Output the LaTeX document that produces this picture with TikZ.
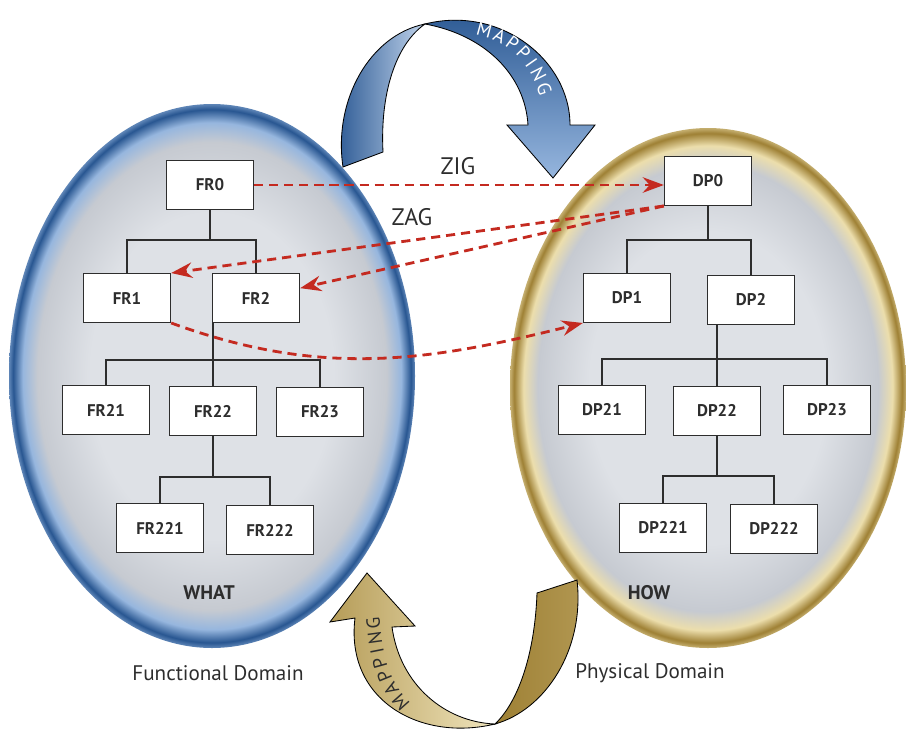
\documentclass[tikz,border=0pt]{standalone}
\usepackage{fontspec}
\setmainfont{PT Sans}
\usetikzlibrary{arrows.meta,decorations.text}
\definecolor{rimblue}{RGB}{40,86,145}
\definecolor{skyblue}{RGB}{150,182,222}
\definecolor{rimgold}{RGB}{158,128,52}
\definecolor{palegold}{RGB}{236,222,172}
\definecolor{domgray}{RGB}{198,202,209}
\definecolor{domlight}{RGB}{222,225,230}
\definecolor{zzred}{RGB}{196,42,32}
\definecolor{inkgray}{RGB}{45,45,45}
\pgfdeclareradialshading{whatdom}{\pgfpoint{0bp}{0bp}}{color(0bp)=(domlight); color(15bp)=(domlight); color(21.5bp)=(domgray); color(23.3bp)=(skyblue); color(24.5bp)=(rimblue); color(25bp)=(rimblue!50!skyblue); color(50bp)=(rimblue!50!skyblue)}
\pgfdeclareradialshading{howdom}{\pgfpoint{0bp}{0bp}}{color(0bp)=(domlight); color(15bp)=(domlight); color(21.5bp)=(domgray); color(23.3bp)=(palegold); color(24.5bp)=(rimgold); color(25bp)=(rimgold!50!palegold); color(50bp)=(rimgold!50!palegold)}

\begin{document}
\begin{tikzpicture}[x=0.025cm, y=0.025cm,
  box/.style={draw=inkgray, fill=white, line width=0.8pt, minimum width=2.18cm,
    minimum height=1.22cm, font=\bfseries\large, text=inkgray},
  link/.style={draw=inkgray, line width=0.9pt},
  zz/.style={draw=zzred, line width=2pt, dash pattern=on 6.5pt off 4.2pt,
    -{Stealth[length=15pt, width=11pt, inset=5pt]}},
  ribbon/.style={draw=black, line width=0.6pt},
  tag/.style={font=\fontsize{17}{17}\selectfont, text=inkgray},
  domlabel/.style={font=\fontsize{15}{15}\selectfont, text=inkgray},
  side/.style={font=\bfseries\fontsize{14}{14}\selectfont, text=inkgray},
  bend text/.style={decorate, decoration={text effects along path,
    text={MAPPING}, text align=center, text effects/.cd, text along path,
    character widths={inner xsep=2pt},
    characters={text=#1, font=\fontsize{13.5}{13.5}\selectfont, anchor=base}}}]
  \useasboundingbox (0,0) rectangle (906,-738);
  % the two domains
  \shade[shading=whatdom] (212,-376) ellipse (203 and 272);
  \shade[shading=howdom] (708,-388) ellipse (198 and 260);
  % mapping ribbon, top (blue)
  \shade[ribbon, left color=rimblue, right color=skyblue!60!white]
    (343,-167) .. controls (333,-100) and (370,-35) .. (425,-24)
    .. controls (395,-45) and (380,-95) .. (383,-152) -- cycle;
  \shade[ribbon, top color=rimblue, bottom color=skyblue]
    (425,-24) .. controls (500,-5) and (570,-60) .. (570,-125)
    -- (595,-125) -- (553,-178) -- (507,-125) -- (528,-125)
    .. controls (525,-75) and (485,-35) .. (425,-24) -- cycle;
  \path[bend text=white]
    (460,-33) .. controls (503,-35) and (535,-60) .. (543,-112);
  % mapping ribbon, bottom (gold)
  \shade[ribbon, left color=rimgold!70!palegold, right color=palegold!80!white]
    (392,-627) .. controls (400,-685) and (445,-722) .. (495,-724)
    .. controls (420,-742) and (345,-700) .. (355,-618)
    -- (330,-622) -- (367,-573) -- (415,-626) -- cycle;
  \shade[ribbon, left color=rimgold, middle color=palegold!60!white, right color=rimgold!75!palegold]
    (495,-724) .. controls (545,-710) and (585,-650) .. (577,-580)
    -- (537,-593) .. controls (535,-650) and (520,-700) .. (495,-724) -- cycle;
  \path[bend text=inkgray]
    (424,-714) .. controls (394,-694) and (380,-665) .. (379,-600);
  % functional requirements
  \node[box] (fr0) at (210,-185) {FR0};
  \node[box] (fr1) at (127,-298) {FR1};
  \node[box] (fr2) at (256,-298) {FR2};
  \node[box] (fr21) at (106,-410) {FR21};
  \node[box] (fr22) at (213,-411) {FR22};
  \node[box] (fr23) at (320,-412) {FR23};
  \node[box] (fr221) at (160,-528) {FR221};
  \node[box] (fr222) at (270,-530) {FR222};
  \coordinate (frbar1) at (0,-240);
  \coordinate (frbar2) at (0,-360);
  \coordinate (frbar3) at (0,-477);
  \draw[link] (fr0.south) -- (fr0.south |- frbar1);
  \draw[link] (fr1.north) |- (fr2.north |- frbar1) -- (fr2.north);
  \draw[link] (fr2.south -| fr22.north) -- (fr22.north);
  \draw[link] (fr21.north) |- (fr23.north |- frbar2) -- (fr23.north);
  \draw[link] (fr22.south) -- (fr22.south |- frbar3);
  \draw[link] (fr221.north) |- (fr222.north |- frbar3) -- (fr222.north);
  % design parameters
  \node[box] (dp0) at (708,-181) {DP0};
  \node[box] (dp1) at (627,-298) {DP1};
  \node[box] (dp2) at (751,-300) {DP2};
  \node[box] (dp21) at (602,-410) {DP21};
  \node[box] (dp22) at (717,-411) {DP22};
  \node[box] (dp23) at (827,-410) {DP23};
  \node[box] (dp221) at (663,-528) {DP221};
  \node[box] (dp222) at (774,-529) {DP222};
  \coordinate (dpbar1) at (0,-240);
  \coordinate (dpbar2) at (0,-359);
  \coordinate (dpbar3) at (0,-476);
  \draw[link] (dp0.south) -- (dp0.south |- dpbar1);
  \draw[link] (dp1.north) |- (dp2.north |- dpbar1) -- (dp2.north);
  \draw[link] (dp2.south -| dp22.north) -- (dp22.north);
  \draw[link] (dp21.north) |- (dp23.north |- dpbar2) -- (dp23.north);
  \draw[link] (dp22.south) -- (dp22.south |- dpbar3);
  \draw[link] (dp221.north) |- (dp222.north |- dpbar3) -- (dp222.north);
  % zig and zag
  \draw[zz] (fr0.east) -- (fr0.east -| dp0.west);
  \draw[zz] (dp0.south west) -- (fr1.north east);
  \draw[zz] (dp0.south west) -- ([yshift=7pt]fr2.east);
  \draw[zz] (fr1.south east) to[out=-20, in=194] (dp1.south west);
  \node[tag] (zig) at (458,-166) {ZIG};
  \node[tag] (zag) at (412,-217) {ZAG};
  % captions
  \node[side] (what) at (209,-593) {WHAT};
  \node[side] (how) at (649,-593) {HOW};
  \node[domlabel] (fdom) at (218,-673) {Functional Domain};
  \node[domlabel] (pdom) at (650,-673) {Physical Domain};
\end{tikzpicture}
\end{document}
